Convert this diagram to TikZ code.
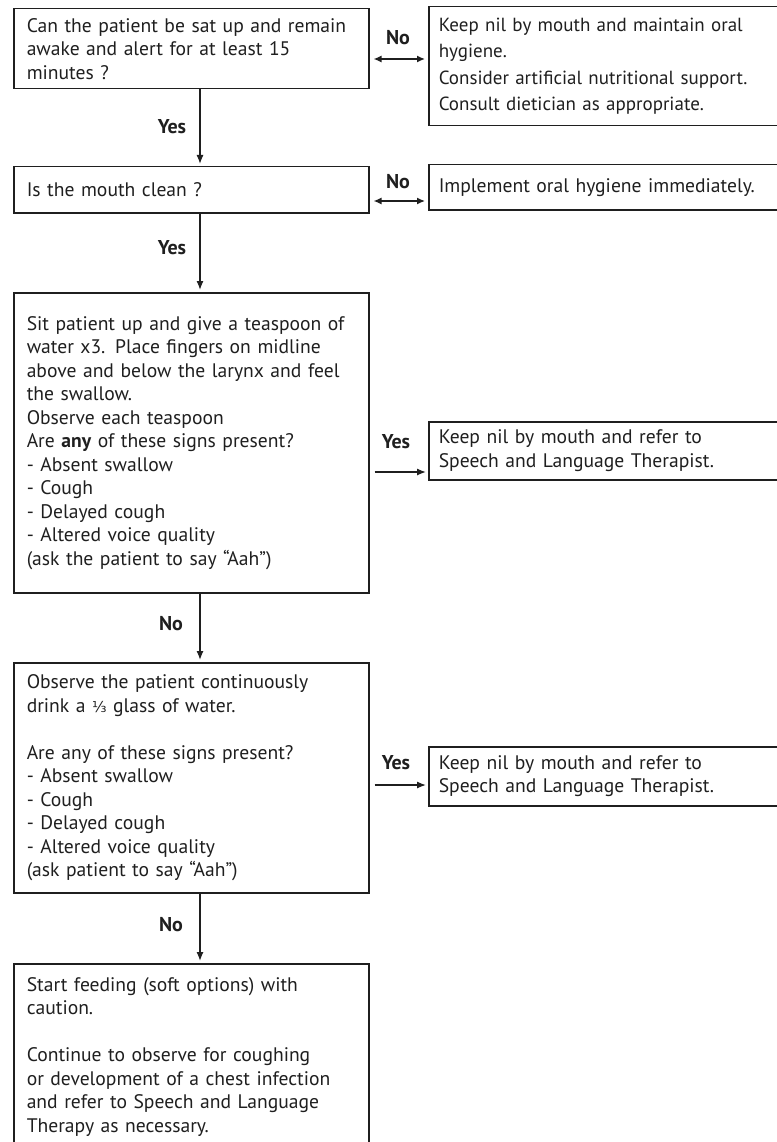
\documentclass[tikz,border=0pt]{standalone}
\usepackage{fontspec}
\setmainfont{PT Sans}
\newfontfamily\fracfont{DejaVu Sans}
\usetikzlibrary{arrows.meta}
\definecolor{ink}{rgb}{0.12,0.12,0.12}
\newcommand{\bodyfs}{\fontsize{19.6}{23.5}\selectfont}
\newcommand{\widefs}{\fontsize{19}{26.3}\selectfont}
\newcommand{\labfs}{\fontsize{20}{22}\selectfont\bfseries}
\tikzset{
  box/.style={draw=ink, line width=1.5pt, anchor=north west, align=left, inner ysep=0pt, text=ink, font=\bodyfs},
  lbox/.style={box, minimum width=355pt, text width=329pt, inner xsep=13pt},
  rbox/.style={box, minimum width=362pt, text width=342pt, inner xsep=10pt},
  lab/.style={font=\labfs, text=ink, inner sep=0pt},
  arr/.style={draw=ink, line width=1.3pt, -{Latex[length=9pt,width=7pt]}, shorten >=2pt},
  dbl/.style={draw=ink, line width=1.4pt, {Latex[length=8pt,width=7pt]}-{Latex[length=8pt,width=7pt]}, shorten >=3pt, shorten <=4pt},
}
\begin{document}
\begin{tikzpicture}[x=1pt,y=-1pt]
\useasboundingbox[fill=white] (0,0) rectangle (776,1142);

% left column
\node[lbox, minimum height=80pt] (b1) at (13,8)
  {Can the patient be sat up and remain\\awake and alert for at least 15\\minutes ?};
\node[lbox, minimum height=46pt] (b2) at (13,166) {Is the mouth clean ?};
\node[lbox, minimum height=300pt] (b3) at (13,292)
  {Sit patient up and give a teaspoon of\\water x3. Place fingers on midline\\above and below the larynx and feel\\the swallow.\\Observe each teaspoon\\Are \textbf{any} of these signs present?\\- Absent swallow\\- Cough\\- Delayed cough\\- Altered voice quality\\(ask the patient to say “Aah”)};
\node[lbox, minimum height=230pt] (b4) at (13,662)
  {Observe the patient continuously\\drink a {\fracfont\fontsize{15}{15}\selectfont ⅓} glass of water.\\[23.5pt]Are any of these signs present?\\- Absent swallow\\- Cough\\- Delayed cough\\- Altered voice quality\\(ask patient to say “Aah”)};
\node[lbox, minimum height=186pt] (b5) at (13,963)
  {Start feeding (soft options) with\\caution.\\[23.5pt]Continue to observe for coughing\\or development of a chest infection\\and refer to Speech and Language\\Therapy as necessary.};

% right column
\node[rbox, minimum height=119pt, font=\widefs] (r1) at (428,6)
  {Keep nil by mouth and maintain oral\\hygiene.\\Consider artificial nutritional support.\\Consult dietician as appropriate.};
\node[rbox, minimum height=45pt] (r2) at (428,164) {Implement oral hygiene immediately.};
\node[rbox, minimum height=58pt] (r3) at (428,421)
  {Keep nil by mouth and refer to\\Speech and Language Therapist.};
\node[rbox, minimum height=59pt] (r4) at (428,746)
  {Keep nil by mouth and refer to\\Speech and Language Therapist.};

% labels
\node[lab] (n1) at (398,38) {No};
\node[lab] (n2) at (398,182) {No};
\node[lab] (y1) at (172,127) {Yes};
\node[lab] (y2) at (172,248) {Yes};
\node[lab] (y3) at (396,442) {Yes};
\node[lab] (n3) at (171,624) {No};
\node[lab] (y4) at (396,763) {Yes};
\node[lab] (n4) at (171,925) {No};

% helper coordinates
\coordinate (vx) at (200,0);
\coordinate (h1) at (0,59);
\coordinate (h2) at (0,201);
\coordinate (h3) at (0,472);
\coordinate (h4) at (0,785);

% vertical connectors
\draw[arr] (b1.south -| vx) -- (b2.north -| vx);
\draw[arr] (b2.south -| vx) -- (b3.north -| vx);
\draw[arr] (b3.south -| vx) -- (b4.north -| vx);
\draw[arr] (b4.south -| vx) -- (b5.north -| vx);

% horizontal connectors
\draw[dbl] (b1.east |- h1) -- (r1.west |- h1);
\draw[dbl] (b2.east |- h2) -- (r2.west |- h2);
\draw[arr, shorten <=5pt] (b3.east |- h3) -- (r3.west |- h3);
\draw[arr, shorten <=5pt] (b4.east |- h4) -- (r4.west |- h4);
\end{tikzpicture}
\end{document}
